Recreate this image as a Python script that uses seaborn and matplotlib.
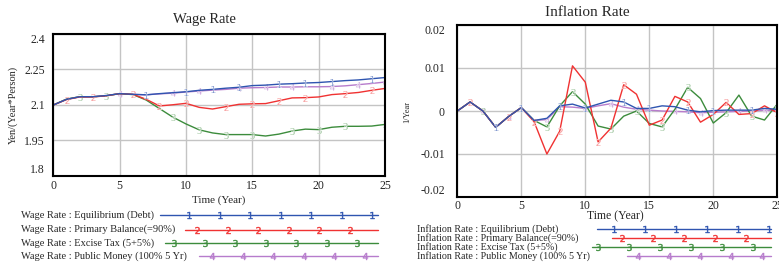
import numpy as np
import pandas as pd
import matplotlib
matplotlib.use("Agg")
import matplotlib.pyplot as plt
from matplotlib.lines import Line2D
import seaborn as sns

# Simulation output (yearly values)
years = list(range(26))
series_names = ["Equilibrium (Debt)", "Primary Balance(=90%)", "Excise Tax (5+5%)", "Public Money (100% 5 Yr)"]
wage_equilibrium = [2.100, 2.124, 2.135, 2.135, 2.140, 2.148, 2.145, 2.143, 2.148, 2.152, 2.156, 2.162, 2.166,
                    2.171, 2.175, 2.182, 2.184, 2.188, 2.190, 2.193, 2.195, 2.199, 2.203, 2.206, 2.211, 2.216]
wage_primary = [2.100, 2.123, 2.134, 2.134, 2.139, 2.148, 2.145, 2.124, 2.096, 2.101, 2.107, 2.090, 2.083,
                2.093, 2.103, 2.105, 2.106, 2.118, 2.130, 2.131, 2.134, 2.144, 2.148, 2.153, 2.162, 2.170]
wage_excise = [2.100, 2.125, 2.135, 2.135, 2.139, 2.148, 2.144, 2.121, 2.085, 2.049, 2.020, 1.995, 1.982,
               1.975, 1.975, 1.975, 1.969, 1.977, 1.990, 1.998, 1.996, 2.006, 2.010, 2.010, 2.011, 2.018]
wage_public = [2.100, 2.124, 2.135, 2.135, 2.140, 2.148, 2.145, 2.143, 2.147, 2.150, 2.155, 2.159, 2.163,
               2.166, 2.171, 2.173, 2.174, 2.176, 2.176, 2.177, 2.177, 2.178, 2.181, 2.186, 2.191, 2.197]

infl_equilibrium = [0, .0021, 0, -.0038, -.0013, .0008, -.0022, -.0017, .0012, .0016, .0007, .0016, .0025,
                    .0021, .0006, .0006, .0012, .0010, .0002, -.0002, .0001, .0002, .0002, .0002, .0006, .0004]
infl_primary = [0, .0021, 0, -.0038, -.0013, .0008, -.0025, -.0100, -.0047, .0105, .0067, -.0072, -.0040,
                .0061, .0039, -.0033, -.0021, .0034, .0021, -.0026, -.0008, .0020, -.0008, -.0006, .0012, -.0004]
infl_excise = [0, .0021, 0, -.0038, -.0013, .0008, -.0022, -.0037, .0012, .0045, .0016, -.0035, -.0042,
               -.0012, 0, -.0029, -.0037, .0004, .0055, .0029, -.0028, -.0004, .0037, -.0012, -.0021, .0016]
infl_public = [0, .0021, 0, -.0038, -.0013, .0008, -.0022, -.0020, .0010, .0009, .0006, .0012, .0017,
               .0009, .0004, .0002, 0, -.0001, -.0002, -.0004, -.0003, -.0002, -.0001, 0, .0002, .0001]

wage_ticks = [1.8, 1.95, 2.1, 2.25, 2.4]
infl_ticks = [-0.02, -0.01, 0, 0.01, 0.02]
year_ticks = [0, 5, 10, 15, 20, 25]

colors = ["#2f55b0", "#f03232", "#3c8c3c", "#b77ccc"]
labels = ["1", "2", "3", "4"]

sns.set_style("white")
plt.rcParams["font.family"] = ["Liberation Serif", "DejaVu Serif"]

W, H = 779, 266
fig = plt.figure(figsize=(W / 100, H / 100), dpi=100)


def px_box(x0, y0, x1, y1):
    return [x0 / W, 1 - y1 / H, (x1 - x0) / W, (y1 - y0) / H]


ax1 = fig.add_axes(px_box(53.3, 34, 385, 176))
ax2 = fig.add_axes(px_box(457.3, 25, 777.3, 197))


def long_frame(cols):
    frames = []
    for name, vals in zip(series_names, cols):
        frames.append(pd.DataFrame({"Time": years, "Value": vals, "Run": name}))
    return pd.concat(frames, ignore_index=True)


wage_df = long_frame([wage_equilibrium, wage_primary, wage_excise, wage_public])
infl_df = long_frame([infl_equilibrium, infl_primary, infl_excise, infl_public])

# where the number labels sit on each curve
wage_marks = [[7, 10, 12, 14, 17, 19, 21, 24], [1, 3, 6, 8, 10, 13, 15, 17, 19, 22, 24],
              [2, 4, 9, 11, 13, 15, 18, 20, 22, 25], [5, 9, 11, 14, 16, 18, 21, 23, 25]]
infl_marks = [[3, 5, 8, 10, 13, 15, 18, 20, 23, 25], [1, 4, 6, 8, 11, 13, 16, 18, 21, 23, 25],
              [2, 7, 9, 12, 14, 16, 18, 21, 23], [2, 4, 7, 10, 12, 14, 17, 19, 22, 24]]


def draw_panel(ax, df, marks, ylim, yticks, fmt):
    # draw in order 4,3,2,1 so blue ends on top like Vensim
    for i in [3, 2, 1, 0]:
        sub = df[df["Run"] == series_names[i]]
        sns.lineplot(data=sub, x="Time", y="Value", ax=ax, color=colors[i], linewidth=1.0,
                     marker="$" + labels[i] + "$", markersize=5, markevery=marks[i],
                     markeredgewidth=0.3, legend=False)
    ax.set_xlim(0, 25)
    ax.set_ylim(*ylim)
    ax.set_xticks(year_ticks)
    ax.set_yticks(yticks)
    ax.set_yticklabels([fmt(v) for v in yticks])
    ax.grid(True, color="#c4c4c4", linewidth=1.0)
    ax.set_xlabel("")
    ax.set_ylabel("")
    for s in ax.spines.values():
        s.set_color("black")
        s.set_linewidth(1.5)
    ax.tick_params(length=0, labelsize=8.5)
    yl = ax.get_yticklabels()
    yl[0].set_va("bottom")
    yl[-1].set_va("top")


draw_panel(ax1, wage_df, wage_marks, (1.8, 2.4), wage_ticks, lambda v: f"{v:g}")
ax1.tick_params(axis="y", pad=6)
ax1.tick_params(axis="x", pad=3)
draw_panel(ax2, infl_df, infl_marks, (-0.02, 0.02), infl_ticks, lambda v: f"{v:g}")
ax2.tick_params(axis="y", pad=9)
ax2.tick_params(axis="x", pad=2)

# titles and axis labels
fig.text(204 / W, 1 - 19 / H, "Wage Rate", ha="center", va="center", fontsize=10.5)
fig.text(587 / W, 1 - 12 / H, "Inflation Rate", ha="center", va="center", fontsize=11)
fig.text(219 / W, 1 - 200 / H, "Time (Year)", ha="center", va="center", fontsize=8)
fig.text(615 / W, 1 - 216 / H, "Time (Year)", ha="center", va="center", fontsize=8.5)
fig.text(13 / W, 1 - 105 / H, "Yen/(Year*Person)", ha="center", va="center", rotation=90, fontsize=7.5)
fig.text(407 / W, 1 - 112 / H, "1/Year", ha="center", va="center", rotation=90, fontsize=6)


def vensim_legend(prefix, text_x, rows, starts, ends, first_marks, spacing, fontsize):
    for i in range(4):
        y = 1 - rows[i] / H
        fig.text(text_x / W, y, f"{prefix} : {series_names[i]}", ha="left", va="center", fontsize=fontsize)
        fig.add_artist(Line2D([starts[i] / W, ends / W], [y, y], color=colors[i], linewidth=1.0))
        mx = np.arange(first_marks[i], ends + 2, spacing)
        fig.add_artist(Line2D(mx / W, [y] * len(mx), color=colors[i], linestyle="none",
                              marker="$" + labels[i] + "$", markersize=5, markeredgewidth=0.3))


vensim_legend("Wage Rate", 21, [215, 229.5, 242.7, 255.7], [160, 185, 165, 199], 378,
              [189, 197, 174, 212], 30.5, 7.5)
vensim_legend("Inflation Rate", 417, [229, 238.3, 247.3, 256], [597, 612, 592, 627], 771,
              [614, 622, 598, 638], 31, 7.2)

fig.savefig("out.png", dpi=100)
